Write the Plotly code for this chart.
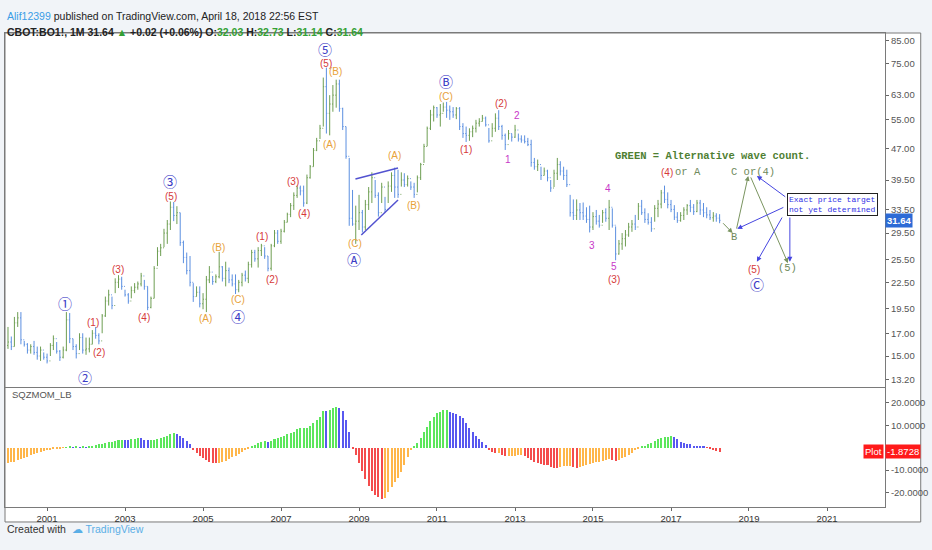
import numpy as np
import pandas as pd
import plotly.graph_objects as go

# Monthly CBOT soybean oil (BO1!) bars, Jan 2000 .. Apr 2018 (open = prior close)
first_open = 15.9
high = [
    17.6, 16.7, 18.6, 19.1, 19.1, 16.3, 16.1, 16.0, 16.3, 15.8, 15.8, 15.3,   # 2000
    15.2, 16.1, 16.8, 16.2, 15.5, 15.8, 19.1, 19.0, 16.5, 16.0, 17.0, 17.0,   # 2001
    16.6, 16.6, 17.3, 17.6, 17.0, 18.9, 20.8, 21.6, 20.8, 23.0, 23.4, 23.2,   # 2002
    21.6, 21.2, 22.0, 22.4, 22.6, 23.7, 22.8, 22.0, 20.8, 24.6, 27.3, 27.8,   # 2003
    30.2, 31.7, 35.1, 35.0, 34.2, 33.0, 28.3, 26.5, 26.0, 22.4, 22.0, 22.0,   # 2004
    21.2, 23.3, 24.6, 23.3, 23.5, 26.6, 24.6, 25.2, 24.4, 23.5, 23.5, 22.8,   # 2005
    23.7, 24.0, 25.2, 26.9, 26.9, 27.3, 27.8, 27.3, 26.0, 27.8, 30.0, 30.0,   # 2006
    30.2, 31.7, 33.0, 34.8, 36.9, 38.3, 38.3, 38.3, 40.7, 42.9, 47.1, 49.8,   # 2007
    53.5, 69.4, 73.3, 63.0, 66.6, 68.6, 68.6, 58.8, 53.0, 44.6, 37.4, 34.3,   # 2008
    36.4, 33.5, 35.4, 38.0, 41.2, 39.5, 36.9, 38.9, 36.0, 39.2, 41.2, 42.3,   # 2009
    41.8, 41.2, 41.0, 40.5, 39.2, 38.9, 40.5, 43.4, 48.2, 53.0, 58.1, 59.5,   # 2010
    59.0, 60.0, 60.5, 60.7, 59.5, 59.0, 59.0, 59.0, 54.0, 53.0, 52.5, 53.3,   # 2011
    55.0, 55.5, 56.5, 56.0, 52.6, 54.0, 57.0, 58.0, 53.5, 51.0, 52.0, 51.0,   # 2012
    53.5, 51.0, 50.5, 50.5, 49.8, 49.3, 44.6, 44.2, 42.5, 42.3, 41.8, 39.5,   # 2013
    41.8, 44.6, 43.8, 42.5, 41.8, 36.4, 35.5, 35.5, 34.8, 34.9, 34.0, 34.3,   # 2014
    33.1, 33.5, 32.6, 33.5, 33.8, 35.4, 33.8, 30.6, 28.4, 29.5, 30.0, 31.2,   # 2015
    31.7, 32.6, 34.8, 35.4, 33.8, 32.9, 32.2, 34.4, 35.4, 37.4, 38.3, 36.9,   # 2016
    35.4, 34.4, 33.1, 33.1, 34.0, 34.6, 35.4, 34.6, 35.4, 35.4, 34.8, 34.0,   # 2017
    33.5, 33.1, 32.9, 32.73,                                                  # 2018
]
low = [
    15.6, 15.5, 15.8, 17.6, 16.0, 15.8, 15.2, 15.2, 15.1, 14.7, 14.6, 14.7,
    14.4, 15.0, 15.5, 15.2, 14.6, 14.8, 15.4, 16.1, 15.5, 14.8, 15.5, 15.2,
    15.1, 15.3, 16.0, 16.5, 16.0, 17.0, 18.6, 19.8, 19.4, 21.2, 21.8, 21.6,
    20.8, 20.0, 20.6, 21.2, 21.6, 22.0, 21.6, 19.3, 19.5, 20.6, 24.6, 26.0,
    27.3, 27.8, 30.0, 31.5, 31.0, 27.5, 25.0, 23.5, 22.0, 20.2, 20.8, 19.6,
    19.4, 19.1, 22.4, 22.2, 22.4, 23.0, 22.6, 22.0, 22.4, 22.0, 21.1, 21.3,
    22.0, 22.6, 22.4, 24.4, 25.2, 24.4, 26.0, 25.6, 23.9, 24.0, 27.3, 27.8,
    27.8, 29.6, 31.3, 32.2, 33.5, 35.8, 36.3, 34.1, 34.6, 39.8, 42.5, 46.3,
    49.5, 53.0, 51.0, 50.5, 57.5, 58.8, 57.5, 52.0, 44.4, 30.7, 30.7, 27.8,
    30.0, 29.6, 30.0, 33.5, 34.8, 35.8, 32.3, 34.8, 33.1, 34.8, 37.0, 35.8,
    35.8, 38.1, 38.0, 38.1, 37.4, 35.8, 36.9, 39.5, 43.4, 47.6, 52.0, 54.5,
    55.6, 53.0, 57.5, 55.6, 55.0, 55.6, 55.2, 52.0, 49.8, 48.7, 49.0, 50.0,
    51.3, 53.0, 54.5, 53.0, 48.5, 50.0, 51.5, 52.0, 49.3, 46.6, 49.3, 48.8,
    49.8, 48.8, 48.5, 48.3, 47.6, 42.5, 41.8, 41.5, 39.5, 40.5, 39.2, 37.0,
    38.0, 39.5, 40.5, 39.5, 38.0, 32.3, 31.7, 31.7, 31.7, 31.7, 31.2, 29.6,
    30.0, 30.9, 30.4, 31.2, 31.4, 30.0, 30.4, 25.4, 26.2, 26.9, 27.4, 28.9,
    29.7, 30.0, 31.7, 32.6, 31.2, 30.9, 29.7, 31.4, 32.2, 33.8, 34.8, 33.8,
    33.1, 31.7, 31.2, 31.4, 31.7, 32.6, 33.1, 32.6, 33.1, 32.6, 32.2, 32.0,
    31.7, 31.4, 31.4, 31.14,
]
close = [
    16.2, 15.8, 18.0, 18.5, 16.4, 16.0, 15.5, 15.8, 15.3, 15.0, 15.5, 14.9,
    14.6, 15.9, 16.5, 15.4, 14.9, 15.5, 18.3, 16.5, 15.8, 15.2, 16.6, 15.5,
    15.6, 16.0, 17.0, 16.8, 16.3, 18.7, 20.3, 21.0, 19.8, 22.5, 22.9, 22.0,
    21.0, 20.3, 21.5, 21.9, 22.3, 23.3, 22.0, 19.6, 20.6, 24.3, 26.7, 27.2,
    29.5, 31.0, 34.0, 32.5, 33.0, 28.0, 25.8, 24.0, 22.5, 20.8, 21.3, 20.0,
    20.5, 22.8, 23.8, 22.6, 23.2, 24.5, 23.0, 24.0, 22.8, 22.3, 21.6, 22.5,
    23.4, 23.0, 24.8, 26.5, 25.6, 26.8, 27.5, 26.0, 24.3, 27.5, 29.5, 28.2,
    29.8, 31.3, 32.7, 34.3, 36.3, 37.8, 37.2, 34.8, 40.0, 42.5, 46.5, 49.0,
    52.5, 66.0, 57.0, 60.0, 63.0, 67.0, 58.5, 53.0, 45.0, 32.0, 31.0, 31.5,
    33.0, 30.5, 34.5, 37.0, 40.0, 36.3, 33.0, 38.0, 33.6, 38.2, 40.5, 38.0,
    36.5, 39.5, 38.5, 39.8, 38.0, 36.5, 40.0, 43.0, 47.5, 52.5, 56.5, 58.8,
    56.5, 57.0, 59.0, 58.0, 57.5, 56.5, 58.5, 53.0, 51.0, 50.5, 51.5, 52.5,
    54.0, 54.5, 55.5, 53.5, 49.0, 52.5, 55.5, 53.0, 50.5, 48.0, 51.0, 50.0,
    52.0, 49.5, 49.2, 48.8, 48.0, 43.5, 42.5, 43.0, 40.5, 41.5, 40.0, 37.8,
    41.0, 43.0, 41.5, 40.5, 38.5, 33.0, 32.5, 33.5, 33.0, 32.4, 31.8, 30.5,
    32.3, 31.5, 30.8, 33.0, 32.0, 34.0, 30.8, 26.3, 27.8, 28.6, 29.2, 30.5,
    31.0, 30.5, 34.2, 33.0, 31.8, 31.3, 30.2, 33.8, 34.6, 36.8, 35.5, 34.5,
    33.6, 32.2, 31.6, 32.5, 33.5, 34.3, 34.0, 33.2, 34.8, 33.5, 33.0, 32.6,
    32.1, 32.4, 32.03, 31.64,
]

# SQZMOM_LB histogram, one value per month
momentum = [
    -6.8, -6.6, -6.2, -5.6, -5.0, -4.5, -4.0, -3.4, -2.9, -2.4, -2.0, -1.6,
    -1.2, -0.9, -0.6, -0.4, -0.25, -0.1, 0.2, 0.3, 0.2, 0.3, 0.2, 0.3,
    0.2, 0.4, 0.7, 1.0, 1.4, 1.7, 2.1, 2.4, 2.7, 3.1, 3.4, 3.6,
    3.5, 3.4, 3.7, 4.0, 4.3, 4.1, 3.6, 3.2, 3.4, 3.6, 3.9, 4.3,
    4.8, 5.4, 5.9, 6.4, 6.2, 5.3, 4.1, 2.8, 1.4, -1.0, -2.5, -3.7,
    -4.8, -5.5, -6.2, -6.7, -7.0, -6.8, -6.5, -6.0, -5.1, -4.3, -3.6, -2.7,
    -1.8, -1.0, -0.4, 0.4, 1.2, 1.9, 2.4, 2.8, 2.6, 3.0, 3.7, 4.5,
    4.9, 5.4, 6.0, 6.4, 7.1, 8.2, 8.6, 8.7, 8.9, 9.7, 10.9, 12.4,
    13.8, 16.4, 16.3, 16.8, 17.6, 18.3, 17.6, 16.4, 12.4, 7.1, -0.8, -3.5,
    -7.0, -10.5, -14.0, -17.0, -19.5, -21.2, -22.2, -22.7, -22.3, -19.6, -17.4, -15.2,
    -13.4, -11.0, -7.7, -4.0, -1.0, 0.4, 1.9, 4.2, 7.1, 9.4, 11.9, 13.8,
    15.3, 16.0, 16.8, 16.9, 16.0, 15.3, 15.2, 14.0, 13.1, 10.9, 8.6, 7.1,
    5.4, 3.7, 2.4, 1.2, -1.0, -1.8, -2.6, -2.5, -3.3, -3.9, -3.8, -3.7,
    -3.6, -3.5, -3.3, -3.7, -4.5, -5.5, -6.3, -7.0, -7.4, -7.7, -7.9, -8.5,
    -8.9, -9.0, -8.7, -8.4, -8.2, -8.1, -8.5, -8.9, -8.6, -8.2, -7.7, -7.4,
    -7.0, -6.5, -6.2, -5.8, -5.5, -5.1, -5.4, -6.0, -5.6, -4.8, -4.1, -3.3,
    -2.2, -1.0, -0.3, 0.4, 0.9, 1.5, 2.2, 3.0, 3.7, 4.2, 4.6, 4.9,
    5.0, 4.6, 3.7, 2.4, 1.9, 1.6, 1.5, 0.7, 0.5, 0.4, 0.3, -0.1,
    -0.8, -1.2, -1.5, -1.8728,
]

price_ticks = [13.2, 15.0, 17.0, 19.5, 22.5, 25.5, 29.5, 33.5, 39.5, 47.0, 55.0, 63.0, 75.0, 85.0]
mom_ticks = [-20, -10, 10, 20]
year_ticks = list(range(2001, 2022, 2))

# Elliott wave labels: (date, price, text)
circled_labels = [
    ('2001-06-22', 20.1, '\u2460'), ('2001-12-25', 13.4, '\u2461'), ('2004-02-24', 39.2, '\u2462'),
    ('2005-11-25', 18.7, '\u2463'), ('2008-02-21', 81.2, '\u2464'), ('2008-11-19', 25.6, '\u24b6'),
    ('2011-03-22', 68.1, '\u24b7'), ('2019-03-16', 22.3, '\u24b8'),
]
red_labels = [
    ('2002-03-10', 18.0, '(1)'), ('2002-05-04', 15.3, '(2)'), ('2002-10-28', 24.2, '(3)'),
    ('2003-06-25', 18.5, '(4)'), ('2004-03-04', 36.0, '(5)'), ('2006-07-07', 28.9, '(1)'),
    ('2006-10-07', 22.8, '(2)'), ('2007-04-28', 39.1, '(3)'), ('2007-08-01', 32.9, '(4)'),
    ('2008-03-01', 75.0, '(5)'), ('2011-09-25', 46.6, '(1)'), ('2012-08-25', 60.3, '(2)'),
    ('2015-07-19', 22.9, '(3)'), ('2016-11-22', 41.1, '(4)'), ('2019-02-18', 24.1, '(5)'),
]
gold_labels = [
    ('2005-01-25', 18.4, '(A)'), ('2005-05-22', 27.3, '(B)'), ('2005-11-25', 20.5, '(C)'),
    ('2008-03-28', 47.9, '(A)'), ('2008-05-25', 71.6, '(B)'), ('2008-11-28', 27.9, '(C)'),
    ('2009-11-25', 45.1, '(A)'), ('2010-05-28', 34.4, '(B)'), ('2011-03-22', 62.4, '(C)'),
]
magenta_labels = [
    ('2012-10-28', 44.3, '1'), ('2013-01-19', 56.2, '2'), ('2014-12-25', 27.6, '3'),
    ('2015-05-22', 37.8, '4'), ('2015-07-19', 24.6, '5'),
]
alt_labels = [
    ('2017-06-07', 41.3, 'or A'), ('2019-02-10', 41.3, 'C or(4)'),
    ('2018-08-16', 28.9, 'B'), ('2020-01-01', 24.3, '(5)'),
]
# (tail date, tail price, head date, head price)
alt_arrows = [
    ('2018-04-20', 31.4, '2018-08-01', 29.5),
    ('2018-09-04', 30.0, '2018-12-25', 40.4),
    ('2019-01-12', 40.4, '2020-01-01', 25.0),
]
note_arrows = [
    ('2019-12-21', 35.8, '2019-03-16', 40.4),
    ('2019-12-03', 34.1, '2018-09-13', 30.2),
    ('2019-11-15', 32.4, '2019-03-16', 25.2),
    ('2020-01-19', 32.4, '2020-01-19', 25.2),
]
triangle_upper = (['2008-11-28', '2010-01-01'], [39.7, 42.2])
triangle_lower = (['2009-01-22', '2010-01-01'], [29.2, 35.4])

UP, DOWN = '#6e9e52', '#5b8fe0'
LIME, BLUE, RED, ORANGE = '#5ce65c', '#5858f0', '#f44c4c', '#ffb64a'
AXIS = '#7a7a7a'

dates = pd.date_range('2000-01-01', periods=len(close), freq='MS')
opens = [first_open] + close[:-1]


def sqz_color(v, prev):
    if v >= 0:
        return LIME if v > prev else BLUE
    return RED if v < prev else ORANGE


mom_colors = [sqz_color(v, momentum[i - 1] if i else v) for i, v in enumerate(momentum)]

fig = go.Figure()
fig.add_trace(go.Ohlc(
    x=dates, open=opens, high=high, low=low, close=close,
    increasing=dict(line=dict(color=UP, width=1)), decreasing=dict(line=dict(color=DOWN, width=1)),
    tickwidth=0.3, xaxis='x', yaxis='y', showlegend=False, hoverinfo='skip'
))
for xs, ys in (triangle_upper, triangle_lower):
    fig.add_trace(go.Scatter(x=xs, y=ys, mode='lines', line=dict(color='#5252d0', width=1.5),
                             xaxis='x', yaxis='y', showlegend=False, hoverinfo='skip'))
fig.add_trace(go.Bar(
    x=dates, y=momentum, marker=dict(color=mom_colors, line=dict(width=0)),
    width=0.62 * 30.44 * 86400000, xaxis='x2', yaxis='y2', showlegend=False, hoverinfo='skip'
))

lg = np.log10
ann = []
for d, p, t in circled_labels:
    ann.append(dict(x=d, y=lg(p), text=t, showarrow=False,
                    font=dict(family='Noto Sans CJK JP, DejaVu Sans', size=14, color='#3b3bc6')))
for lst, col in ((red_labels, '#d63a3a'), (gold_labels, '#e8a23a')):
    for d, p, t in lst:
        ann.append(dict(x=d, y=lg(p), text=t, showarrow=False,
                        font=dict(family='Liberation Sans', size=10, color=col)))
for d, p, t in magenta_labels:
    ann.append(dict(x=d, y=lg(p), text=t, showarrow=False,
                    font=dict(family='Liberation Sans', size=10, color='#c837c8')))
for d, p, t in alt_labels:
    ann.append(dict(x=d, y=lg(p), text=t, showarrow=False,
                    font=dict(family='Liberation Mono', size=10.5, color='#6f8a5c')))
ann.append(dict(x='2018-01-25', y=lg(45.1), text='<b>GREEN = Alternative wave count.</b>', showarrow=False,
                font=dict(family='Liberation Mono', size=10.5, color='#4f7f33')))
ann.append(dict(x='2021-02-22', y=lg(34.6), text='Exact price target<br>not yet determined', showarrow=False,
                align='left', bgcolor='white', bordercolor='#222', borderwidth=1, borderpad=1,
                font=dict(family='Liberation Mono', size=8, color='#2f2fe6')))
for arrows, col in ((alt_arrows, '#7a9460'), (note_arrows, '#4646e0')):
    for tx, ty, hx, hy in arrows:
        ann.append(dict(x=hx, y=lg(hy), ax=tx, ay=lg(ty), xref='x', yref='y', axref='x', ayref='y',
                        text='', showarrow=True, arrowhead=2, arrowsize=1, arrowwidth=1,
                        arrowcolor=col, standoff=0))

# last price / last value tags on the right axes
ann.append(dict(xref='paper', x=1.0, xanchor='left', y=lg(close[-1]), yref='y',
                text=f'<b>{close[-1]:.2f}</b>', showarrow=False, bgcolor='#2d6bd6', borderpad=1,
                font=dict(family='Liberation Sans', size=9.5, color='white')))
ann.append(dict(xref='paper', x=1.0, xanchor='left', y=momentum[-1], yref='y2',
                text=f'{momentum[-1]:.4f}', showarrow=False, bgcolor='#ff1a1a', borderpad=1,
                font=dict(family='Liberation Sans', size=9.5, color='white')))
ann.append(dict(xref='paper', x=0.999, xanchor='right', y=momentum[-1], yref='y2',
                text='Plot', showarrow=False, bgcolor='#ff1a1a', borderpad=1,
                font=dict(family='Liberation Sans', size=9.5, color='white')))
ann.append(dict(xref='paper', yref='paper', x=0.006, y=0.2225, xanchor='left', text='SQZMOM_LB',
                showarrow=False, font=dict(family='Liberation Sans', size=9.5, color='#555')))

# header and footer
green = '#33a033'
ann.append(dict(xref='paper', yref='paper', x=0.0, y=1.0527, xanchor='left', showarrow=False,
                text="<span style='color:#3a9de6'>Alif12399</span> published on TradingView.com, April 18, 2018 22:56 EST",
                font=dict(family='Liberation Sans Narrow, Liberation Sans', size=10.5, color='#222')))
ann.append(dict(xref='paper', yref='paper', x=0.0, y=1.019, xanchor='left', showarrow=False,
                text=(f"<b>CBOT:BO1!, 1M 31.64 <span style='color:{green}'>\u25b2</span> +0.02 (+0.06%) "
                      f"O:<span style='color:{green}'>32.03</span> H:<span style='color:{green}'>32.73</span> "
                      f"L:<span style='color:{green}'>31.14</span> C:<span style='color:{green}'>31.64</span></b>"),
                font=dict(family='Liberation Sans Narrow, Liberation Sans', size=10.5, color='#222')))
ann.append(dict(xref='paper', yref='paper', x=0.0, y=-0.0633, xanchor='left', showarrow=False,
                text="Created with  <span style='color:#5aaee6'>\u2601 TradingView</span>",
                font=dict(family='Liberation Sans Narrow, Liberation Sans', size=10.5, color='#333')))

axis_common = dict(showgrid=False, zeroline=False, showline=True, linecolor=AXIS, linewidth=1, mirror=True)
fig.update_layout(
    width=932, height=550,
    paper_bgcolor='#f1f4f8', plot_bgcolor='white',
    margin=dict(l=4, r=41, t=33, b=43),
    bargap=0,
    xaxis=dict(domain=[0, 1], anchor='y', range=['1999-12-04', '2022-06-28'], showticklabels=False,
               rangeslider=dict(visible=False), **axis_common),
    yaxis=dict(domain=[0.2532, 1], anchor='x', type='log', side='right',
               range=[lg(12.65), lg(88.68)], tickmode='array', tickvals=price_ticks,
               ticktext=[f'{v:.2f}' for v in price_ticks], ticks='outside', ticklen=3, tickcolor='#666',
               tickfont=dict(family='Liberation Sans', size=9.5, color='#555'), **axis_common),
    xaxis2=dict(domain=[0, 1], anchor='y2', matches='x', tickmode='array',
                tickvals=[f'{y}-01-01' for y in year_ticks], ticktext=[str(y) for y in year_ticks],
                ticks='outside', ticklen=3, tickcolor='#666',
                tickfont=dict(family='Liberation Sans', size=9.5, color='#333'), **axis_common),
    yaxis2=dict(domain=[0, 0.2511], anchor='x2', side='right', range=[-26.5, 26.6],
                tickmode='array', tickvals=mom_ticks, ticktext=[f'{v:.4f}' for v in mom_ticks],
                ticks='outside', ticklen=3, tickcolor='#666',
                tickfont=dict(family='Liberation Sans', size=9.5, color='#555'), **axis_common),
    annotations=ann,
    shapes=[dict(type='rect', xref='paper', yref='paper', x0=0, x1=1.0406, y0=-0.0316, y1=1.0,
                 fillcolor='white', line=dict(color=AXIS, width=1), layer='below')],
)

# drop the browser's default 8px body margin so the figure sits at the window origin
fig.write_html('out.html', config={'displayModeBar': False},
               post_script="document.body.style.margin='0px';")
